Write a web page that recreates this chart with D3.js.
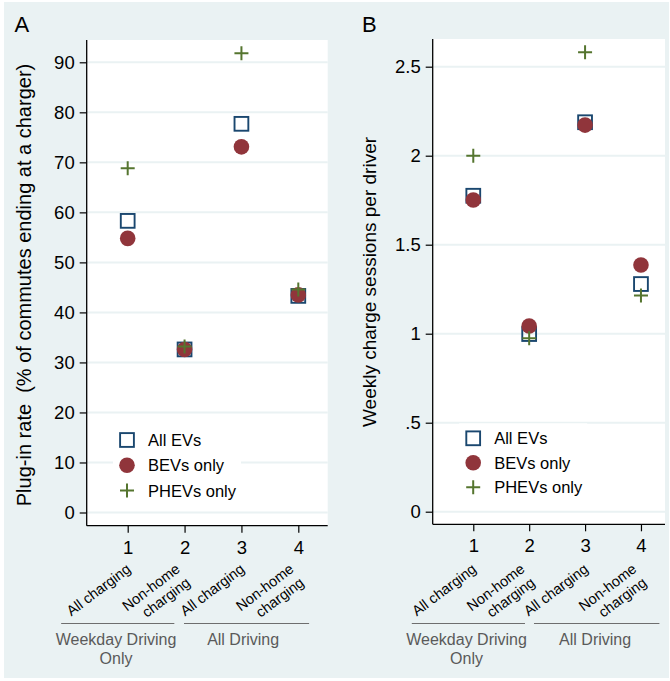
<!DOCTYPE html>
<html>
<head>
<meta charset="utf-8">
<script src="https://d3js.org/d3.v7.min.js"></script>
<style>
  body { margin: 0; background: #fff; }
  text { font-family: "Liberation Sans", Arial, sans-serif; white-space: pre; }
</style>
</head>
<body>
<script>
// categories and labels
var categories = [1, 2, 3, 4];
var catLabels = [["All charging"], ["Non-home", "charging"], ["All charging"], ["Non-home", "charging"]];
var seriesNames = ["All EVs", "BEVs only", "PHEVs only"];

// panel A: plug-in rate (%)
var plugAll  = [58.3, 32.6, 77.7, 43.3];
var plugBEV  = [54.8, 32.6, 73.1, 43.5];
var plugPHEV = [68.8, 33.2, 91.8, 44.6];
var plugTicks = [0, 10, 20, 30, 40, 50, 60, 70, 80, 90];

// panel B: weekly charge sessions per driver
var sessAll  = [1.775, 0.998, 2.188, 1.279];
var sessBEV  = [1.751, 1.043, 2.172, 1.386];
var sessPHEV = [2.0, 0.974, 2.581, 1.215];
var sessTicks = [0, 0.5, 1, 1.5, 2, 2.5];
var sessTickLabels = ["0", ".5", "1", "1.5", "2", "2.5"];

// groups under the axis
var groupLabels = [["Weekday Driving", "Only"], ["All Driving"]];

var width = 670, height = 681;
var bg = "#eaf2f3";
var colors = ["#1a476f", "#90353b", "#55752f"];

var svg = d3.select("body").append("svg")
    .attr("width", width)
    .attr("height", height);

svg.append("rect")
    .attr("x", 4).attr("y", 2)
    .attr("width", 665).attr("height", 676)
    .attr("fill", bg);

function drawPanel(cfg) {
    var x = d3.scaleLinear().domain(cfg.xDomain).range([cfg.left, cfg.right]);
    var y = d3.scaleLinear().domain(cfg.yDomain).range(cfg.yRange);

    var g = svg.append("g");

    // plot region
    g.append("rect")
        .attr("x", cfg.left).attr("y", cfg.top)
        .attr("width", cfg.right - cfg.left)
        .attr("height", cfg.bottom - cfg.top)
        .attr("fill", "#fff");

    // gridlines
    g.selectAll(".grid")
        .data(cfg.yTicks)
        .enter().append("line")
        .attr("class", "grid")
        .attr("x1", cfg.left).attr("x2", cfg.right)
        .attr("y1", function (d) { return y(d); })
        .attr("y2", function (d) { return y(d); })
        .style("stroke", bg)
        .style("stroke-width", 2);

    // y axis
    var yAxis = d3.axisLeft(y)
        .tickValues(cfg.yTicks)
        .tickFormat(function (d, i) { return cfg.yTickLabels[i]; })
        .tickSize(7)
        .tickPadding(5);
    var ya = g.append("g")
        .attr("transform", "translate(" + cfg.left + ",0)")
        .call(yAxis);
    ya.select(".domain").remove();
    ya.selectAll("line").style("stroke", "#000").style("stroke-width", 1.2);
    ya.selectAll("text")
        .style("font-size", "18.5px")
        .style("font-family", "Liberation Sans, Arial, sans-serif")
        .attr("fill", "#000");

    // x axis
    var xAxis = d3.axisBottom(x)
        .tickValues(categories)
        .tickFormat(d3.format("d"))
        .tickSize(7)
        .tickPadding(8);
    var xa = g.append("g")
        .attr("transform", "translate(0," + cfg.bottom + ")")
        .call(xAxis);
    xa.select(".domain").remove();
    xa.selectAll("line").style("stroke", "#000").style("stroke-width", 1.2);
    xa.selectAll("text")
        .style("font-size", "18.5px")
        .style("font-family", "Liberation Sans, Arial, sans-serif")
        .attr("fill", "#000");

    // axis lines
    g.append("line")
        .attr("x1", cfg.left).attr("x2", cfg.left)
        .attr("y1", cfg.top).attr("y2", cfg.bottom)
        .style("stroke", "#000").style("stroke-width", 1.3);
    g.append("line")
        .attr("x1", cfg.left).attr("x2", cfg.right)
        .attr("y1", cfg.bottom).attr("y2", cfg.bottom)
        .style("stroke", "#000").style("stroke-width", 1.3);

    // legend box
    g.append("rect")
        .attr("x", cfg.legX - 14).attr("y", cfg.legY - 15)
        .attr("width", 128).attr("height", 78)
        .attr("fill", "#fff");

    var series = cfg.series;

    // markers: squares, circles, plus
    g.selectAll(".sq")
        .data(series[0])
        .enter().append("rect")
        .attr("class", "sq")
        .attr("x", function (d, i) { return x(categories[i]) - 6.9; })
        .attr("y", function (d) { return y(d) - 6.9; })
        .attr("width", 13.8).attr("height", 13.8)
        .attr("fill", "none")
        .style("stroke", colors[0])
        .style("stroke-width", 1.9);

    g.selectAll(".dot")
        .data(series[1])
        .enter().append("circle")
        .attr("class", "dot")
        .attr("cx", function (d, i) { return x(categories[i]); })
        .attr("cy", function (d) { return y(d); })
        .attr("r", 7.8)
        .attr("fill", colors[1]);

    g.selectAll(".plus")
        .data(series[2])
        .enter().append("path")
        .attr("class", "plus")
        .attr("d", function (d, i) {
            var cx = x(categories[i]), cy = y(d);
            return "M" + (cx - 7) + "," + cy + "H" + (cx + 7) + "M" + cx + "," + (cy - 7) + "V" + (cy + 7);
        })
        .style("stroke", colors[2])
        .style("stroke-width", 2)
        .attr("fill", "none");

    // legend
    var leg = g.selectAll(".leg")
        .data(seriesNames)
        .enter().append("g")
        .attr("class", "leg")
        .attr("transform", function (d, i) { return "translate(" + cfg.legX + "," + (cfg.legY + i * cfg.legStep) + ")"; });
    leg.each(function (d, i) {
        var s = d3.select(this);
        if (i === 0) {
            s.append("rect").attr("x", -6.9).attr("y", -6.9).attr("width", 13.8).attr("height", 13.8)
                .attr("fill", "none").style("stroke", colors[0]).style("stroke-width", 1.9);
        } else if (i === 1) {
            s.append("circle").attr("r", 7.8).attr("fill", colors[1]);
        } else {
            s.append("path").attr("d", "M-7,0H7M0,-7V7")
                .style("stroke", colors[2]).style("stroke-width", 2);
        }
        s.append("text")
            .attr("x", 21).attr("y", 6)
            .style("font-size", "16.5px")
            .text(d);
    });

    // rotated category labels
    var lineH = 17;
    var ang = 37, rad = ang * Math.PI / 180;
    categories.forEach(function (c, i) {
        var lines = catLabels[i];
        var ax = x(c) + (lines.length === 1 ? 4 : -3.5);
        var ay = 571;
        lines.forEach(function (ln, j) {
            var px = ax + j * lineH * Math.sin(rad);
            var py = ay + j * lineH * Math.cos(rad);
            g.append("text")
                .attr("transform", "translate(" + px + "," + py + ") rotate(" + (-ang) + ")")
                .attr("text-anchor", "end")
                .style("font-size", "14.5px")
                .attr("fill", "#000")
                .text(ln);
        });
    });

    // group lines and labels
    cfg.groups.forEach(function (gr, i) {
        g.append("line")
            .attr("x1", x(gr.from)).attr("x2", x(gr.to))
            .attr("y1", 623.5).attr("y2", 623.5)
            .style("stroke", "#6e6e6e").style("stroke-width", 1.1);
        groupLabels[i].forEach(function (ln, j) {
            g.append("text")
                .attr("x", x(gr.mid))
                .attr("y", 645 + j * 18.5)
                .attr("text-anchor", "middle")
                .style("font-size", "16px")
                .attr("fill", "#5a5a5a")
                .text(ln);
        });
    });

    // y title
    g.append("text")
        .attr("transform", "translate(" + cfg.titleX + "," + cfg.titleY + ") rotate(-90)")
        .attr("text-anchor", "middle")
        .style("font-size", cfg.titleSize)
        .attr("fill", "#000")
        .text(cfg.title);

    // panel letter
    g.append("text")
        .attr("x", cfg.letterX).attr("y", 31.5)
        .style("font-size", "22px")
        .attr("fill", "#000")
        .text(cfg.letter);
}

drawPanel({
    letter: "A", letterX: 14.5,
    left: 86.7, right: 327.7, top: 40, bottom: 525.7,
    xDomain: [0.279, 4.517],
    yDomain: [0, 90], yRange: [512.5, 62.3],
    yTicks: plugTicks,
    yTickLabels: plugTicks.map(String),
    series: [plugAll, plugBEV, plugPHEV],
    legX: 127, legY: 440, legStep: 25.3,
    title: "Plug-in rate  (% of commutes ending at a charger)",
    titleX: 31, titleY: 285, titleSize: "20px",
    groups: [{from: -0.17, to: 1.82, mid: 0.795}, {from: 1.99, to: 4.19, mid: 3.03}]
});

drawPanel({
    letter: "B", letterX: 362,
    left: 432.7, right: 665, top: 39, bottom: 524.3,
    xDomain: [0.274, 4.43],
    yDomain: [0, 2.5], yRange: [511.7, 66.7],
    yTicks: sessTicks,
    yTickLabels: sessTickLabels,
    series: [sessAll, sessBEV, sessPHEV],
    legX: 473.2, legY: 438.3, legStep: 24.5,
    title: "Weekly charge sessions per driver",
    titleX: 376, titleY: 282, titleSize: "19px",
    groups: [{from: -0.10, to: 1.925, mid: 0.88}, {from: 2.086, to: 4.33, mid: 3.18}]
});
</script>
</body>
</html>
